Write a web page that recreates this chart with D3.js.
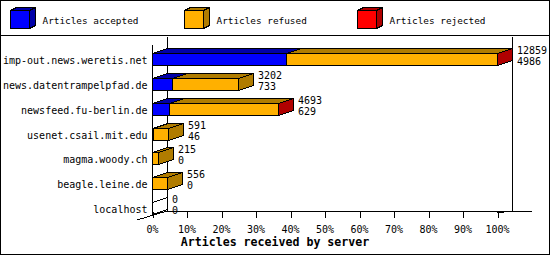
<!DOCTYPE html>
<html>
<head>
<meta charset="utf-8">
<script src="https://cdn.jsdelivr.net/npm/d3@7"></script>
<style>
  body { margin: 0; background: #fff; }
  svg { display: block; }
  text { font-family: "DejaVu Sans Mono", "Liberation Mono", monospace; fill: #000; }
</style>
</head>
<body>
<script>
// hosts and article counts
var hosts = ["imp-out.news.weretis.net", "news.datentrampelpfad.de", "newsfeed.fu-berlin.de",
             "usenet.csail.mit.edu", "magma.woody.ch", "beagle.leine.de", "localhost"];
var accepted = [4986, 733, 629, 46, 0, 0, 0];
var refused  = [7858, 2469, 4054, 545, 215, 556, 0];
var rejected = [15, 0, 10, 0, 0, 0, 0];
var seriesNames = ["Articles accepted", "Articles refused", "Articles rejected"];
var tickValues = [0, 10, 20, 30, 40, 50, 60, 70, 80, 90, 100];
var axisTitle = "Articles received by server";

var front = ["#0000ff", "#ffb000", "#ff0000"];
var dark  = ["#0000a8", "#b07c00", "#b00000"];

var totals = hosts.map((h, i) => accepted[i] + refused[i] + rejected[i]);
var maxTotal = d3.max(totals);

var dx = 15, dy = 5;

var svg = d3.select("body").append("svg")
    .attr("width", 550).attr("height", 255)
    .attr("shape-rendering", "crispEdges");

svg.append("rect").attr("x", 0.5).attr("y", 0.5).attr("width", 549).attr("height", 254)
    .attr("fill", "#fff").attr("stroke", "#000");
svg.append("line").attr("x1", 0).attr("x2", 550).attr("y1", 35.5).attr("y2", 35.5).attr("stroke", "#000");

// legend with little cubes
var legend = svg.append("g").selectAll("g").data(seriesNames).enter().append("g")
    .attr("transform", (d, i) => "translate(" + Math.round(10 + i * 173.7) + ",0)");
legend.append("polygon").attr("points", "0.5,10.5 6.5,7.5 25.5,7.5 19.5,10.5")
    .attr("fill", (d, i) => dark[i]).attr("stroke", "#000");
legend.append("polygon").attr("points", "19.5,10.5 25.5,7.5 25.5,25.5 19.5,28.5")
    .attr("fill", (d, i) => dark[i]).attr("stroke", "#000");
legend.append("rect").attr("x", 0.5).attr("y", 10.5).attr("width", 19).attr("height", 18)
    .attr("fill", (d, i) => front[i]).attr("stroke", "#000");
legend.append("text").attr("x", 32.5).attr("y", 23.5).style("font-size", "9.4px").text(d => d);

// scales
var x = d3.scaleLinear().domain([0, 100]).range([152, 497]);
var y = d3.scaleBand().domain(hosts).range([47, 220]);
var half = 6;
var floorY = 211;

// walls and floor
var frame = svg.append("g").attr("stroke", "#000").attr("fill", "none");
frame.append("line").attr("x1", x(0) + dx + 0.5).attr("x2", x(0) + dx + 0.5).attr("y1", 37).attr("y2", floorY);
frame.append("line").attr("x1", x(100) + dx + 0.5).attr("x2", x(100) + dx + 0.5).attr("y1", 37).attr("y2", floorY);
frame.append("line").attr("x1", x(0) + 0.5).attr("x2", x(0) + 0.5).attr("y1", 45).attr("y2", floorY + dy);
frame.append("line").attr("x1", x(0) + dx).attr("x2", 532).attr("y1", floorY + 0.5).attr("y2", floorY + 0.5);
frame.append("line").attr("x1", x(0) - dx).attr("y1", floorY + 2 * dy - 1)
    .attr("x2", x(0) + dx).attr("y2", floorY);
frame.append("line").attr("x1", x(100)).attr("y1", floorY + 2)
    .attr("x2", x(100) + dx).attr("y2", floorY);

// percent axis
var axis = svg.append("g").attr("transform", "translate(0," + (floorY + 0.5) + ")")
    .call(d3.axisBottom(x).tickValues(tickValues).tickSize(6).tickPadding(8).tickFormat(d => d + "%"));
axis.select(".domain").remove();
axis.selectAll("line").attr("stroke", "#000").attr("transform", "translate(0.5,0)");
axis.selectAll("text").style("font-size", "10px").attr("fill", "#000");

svg.append("text").attr("x", 275).attr("y", 245.5).attr("text-anchor", "middle")
    .style("font-size", "11.6px").style("font-weight", "bold").text(axisTitle);

// bars
function pct(v) { return v / maxTotal * 100; }

var bars = svg.append("g");
hosts.forEach(function(h, i) {
  var c = Math.round(y(h) + y.bandwidth() / 2);
  var top = c - half + 0.5, bot = c + half + 0.5;
  var vals = [accepted[i], refused[i], rejected[i]];
  var start = 0;
  var g = bars.append("g").attr("stroke", "#000");
  if (totals[i] === 0) {
    var x0 = x(0) + 0.5;
    g.append("polygon").attr("fill", "none")
      .attr("points", [[x0, top], [x0 + dx, top - dy], [x0 + dx, bot - dy], [x0, bot]].join(" "));
  }
  vals.forEach(function(v, s) {
    if (v <= 0) return;
    var x0 = Math.round(x(pct(start))) + 0.5;
    var x1 = Math.round(x(pct(start + v))) + 0.5;
    start += v;
    g.append("polygon").attr("fill", dark[s])
      .attr("points", [[x0, top], [x0 + dx, top - dy], [x1 + dx, top - dy], [x1, top]].join(" "));
    g.append("polygon").attr("fill", dark[s])
      .attr("points", [[x1, top], [x1 + dx, top - dy], [x1 + dx, bot - dy], [x1, bot]].join(" "));
    g.append("rect").attr("x", x0).attr("y", top).attr("width", x1 - x0).attr("height", bot - top)
      .attr("fill", front[s]);
  });

  var lx = Math.round(x(pct(totals[i]))) + dx + 5;
  svg.append("text").attr("x", lx).attr("y", c - 5).style("font-size", "10px").text(totals[i]);
  svg.append("text").attr("x", lx).attr("y", c + 5.5).style("font-size", "10px").text(accepted[i]);

  svg.append("text").attr("x", 147.5).attr("y", c + 4.5).attr("text-anchor", "end")
    .style("font-size", "10px").text(h);
});
</script>
</body>
</html>
